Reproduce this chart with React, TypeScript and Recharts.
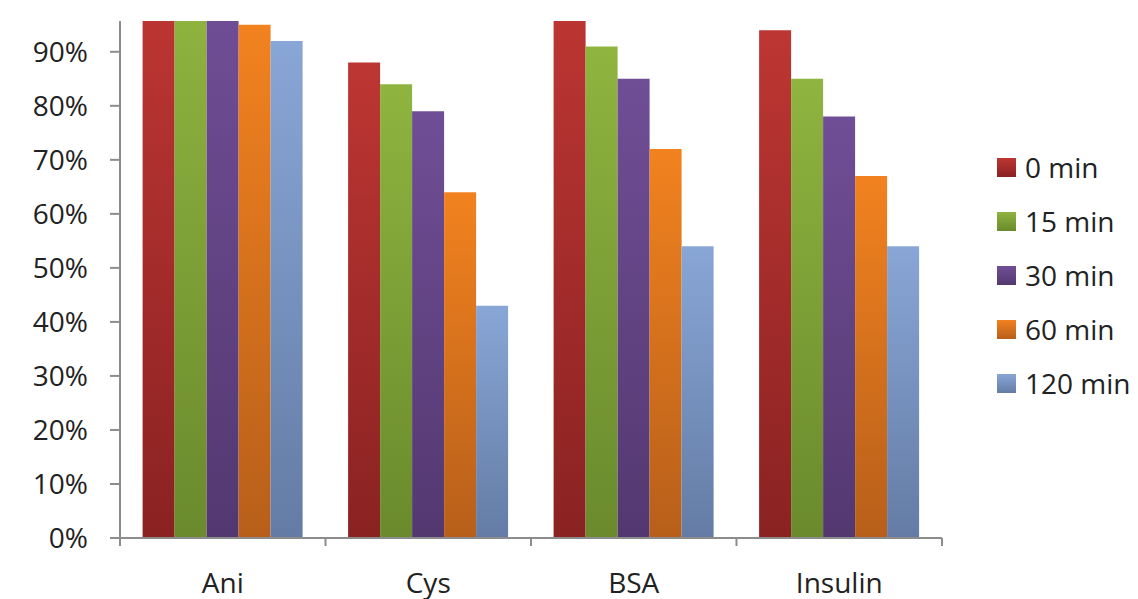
import { Bar, BarChart, XAxis, YAxis } from "recharts";

const proteins = ["Ani", "Cys", "BSA", "Insulin"];
const min0 = [1.0, 0.88, 1.0, 0.94];
const min15 = [1.0, 0.84, 0.91, 0.85];
const min30 = [1.0, 0.79, 0.85, 0.78];
const min60 = [0.95, 0.64, 0.72, 0.67];
const min120 = [0.92, 0.43, 0.54, 0.54];
const yTicks = [0, 0.1, 0.2, 0.3, 0.4, 0.5, 0.6, 0.7, 0.8, 0.9];

const series = [
  { key: "m0", name: "0 min", values: min0, top: "#bd3633", bottom: "#8a2222" },
  { key: "m15", name: "15 min", values: min15, top: "#8fb43f", bottom: "#6a8a2d" },
  { key: "m30", name: "30 min", values: min30, top: "#704e96", bottom: "#533870" },
  { key: "m60", name: "60 min", values: min60, top: "#f2821f", bottom: "#b75f1a" },
  { key: "m120", name: "120 min", values: min120, top: "#88a6d6", bottom: "#647ca5" },
];

const data = proteins.map((p, i) => {
  const row: Record<string, string | number> = { name: p };
  series.forEach((s) => (row[s.key] = s.values[i]));
  return row;
});

const FONT = "'Open Sans', 'DejaVu Sans', sans-serif";
const AXIS = "#8c8c8c";
const TEXT = "#222";

// category label plus tick marks on the band edges
function CategoryTick(props: any) {
  const { x, y, payload, index, width, visibleTicksCount } = props;
  const band = width / visibleTicksCount;
  const last = index === visibleTicksCount - 1;
  return (
    <g>
      <line x1={x - band / 2} x2={x - band / 2} y1={y} y2={y + 8} stroke={AXIS} strokeWidth={2} />
      {last && <line x1={x + band / 2} x2={x + band / 2} y1={y} y2={y + 8} stroke={AXIS} strokeWidth={2} />}
      <text x={x} y={y + 44} textAnchor="middle" dominantBaseline="central" fill={TEXT} fontSize={28} fontFamily={FONT}>
        {payload.value}
      </text>
    </g>
  );
}

function LegendBox() {
  return (
    <div style={{ position: "absolute", left: 997, top: 140, fontFamily: FONT, fontSize: 28, color: TEXT }}>
      {series.map((s) => (
        <div key={s.key} style={{ display: "flex", alignItems: "center", height: 54 }}>
          <svg width={19} height={19} style={{ marginRight: 9 }}>
            <rect x={0} y={0} width={19} height={19} fill={`url(#g-${s.key})`} />
          </svg>
          <span>{s.name}</span>
        </div>
      ))}
    </div>
  );
}

export default function App() {
  return (
    <div style={{ position: "absolute", left: 0, top: 0, width: 1138, height: 599, background: "#fff" }}>
      <BarChart
        width={1138}
        height={599}
        data={data}
        margin={{ top: 21, right: 196, left: 0, bottom: 0 }}
        barGap={0}
        barCategoryGap="11%"
      >
        <defs>
          {series.map((s) => (
            <linearGradient key={s.key} id={`g-${s.key}`} x1="0" y1="0" x2="0" y2="1">
              <stop offset="0%" stopColor={s.top} />
              <stop offset="100%" stopColor={s.bottom} />
            </linearGradient>
          ))}
        </defs>
        <XAxis
          dataKey="name"
          height={61}
          interval={0}
          tickSize={0}
          tickMargin={0}
          tickLine={false}
          axisLine={{ stroke: AXIS, strokeWidth: 2 }}
          tick={<CategoryTick />}
        />
        <YAxis
          width={120}
          domain={[0, 0.957]}
          allowDataOverflow
          ticks={yTicks}
          interval={0}
          tickFormatter={(v: number) => `${Math.round(v * 100)}%`}
          tickSize={10}
          tickMargin={22}
          tickLine={{ stroke: AXIS, strokeWidth: 2 }}
          axisLine={{ stroke: AXIS, strokeWidth: 2 }}
          tick={{ fill: TEXT, fontSize: 28, fontFamily: FONT }}
        />
        {series.map((s) => (
          <Bar
            key={s.key}
            dataKey={s.key}
            name={s.name}
            fill={`url(#g-${s.key})`}
            isAnimationActive={false}
          />
        ))}
      </BarChart>
      <LegendBox />
    </div>
  );
}
